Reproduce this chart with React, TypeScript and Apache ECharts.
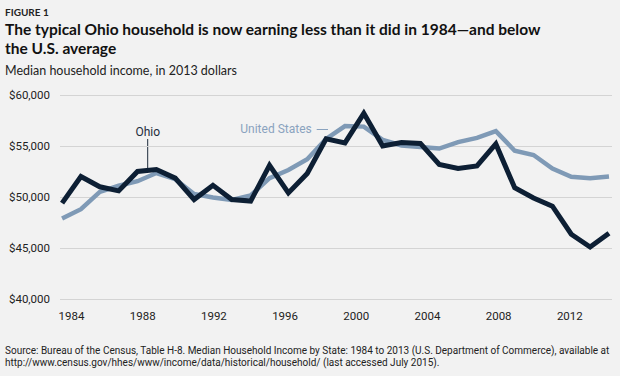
import React, { useEffect, useRef } from "react";
import * as echarts from "echarts";

const years = [1984, 1985, 1986, 1987, 1988, 1989, 1990, 1991, 1992, 1993, 1994, 1995, 1996, 1997, 1998, 1999, 2000, 2001, 2002, 2003, 2004, 2005, 2006, 2007, 2008, 2009, 2010, 2011, 2012, 2013];
const ohio = [49400, 52000, 51000, 50600, 52500, 52700, 51850, 49750, 51150, 49750, 49600, 53100, 50400, 52300, 55700, 55300, 58200, 55000, 55350, 55250, 53200, 52800, 53050, 55200, 50900, 49900, 49100, 46350, 45100, 46450];
const us = [47900, 48800, 50500, 51100, 51550, 52350, 51750, 50300, 49950, 49700, 50150, 51850, 52650, 53700, 55700, 56950, 56900, 55600, 55050, 54900, 54750, 55380, 55800, 56450, 54540, 54120, 52780, 51980, 51830, 52000];
const xTickLabels = [1984, 1988, 1992, 1996, 2000, 2004, 2008, 2012];

const HEAD = 'Lato, "Open Sans", sans-serif';
const SANS = 'Roboto, "Liberation Sans", sans-serif';

export default function App() {
  const ref = useRef<HTMLDivElement>(null);
  useEffect(() => {
    if (!ref.current) return;
    const chart = echarts.init(ref.current, null, { renderer: "svg" });
    chart.setOption({
      animation: false,
      backgroundColor: "#f2f2f2",
      grid: { left: 60, right: 8, top: 95, bottom: 77 },
      xAxis: [
        {
          type: "value",
          min: 1983.89,
          max: 2013.16,
          show: false,
        },
        {
          type: "value",
          min: 1983.354,
          max: 2014.37,
          position: "bottom",
          axisLine: { show: false },
          axisTick: { show: false },
          splitLine: { show: false },
          axisLabel: {
            customValues: xTickLabels,
            margin: 11,
            color: "#222",
            fontFamily: SANS,
            fontSize: 11.5,
            formatter: (v: number) => String(v),
          },
        },
      ],
      yAxis: {
        type: "value",
        min: 40000,
        max: 60000,
        interval: 5000,
        axisLine: { show: false },
        axisTick: { show: false },
        splitLine: { lineStyle: { color: "#d4d4d4", width: 1 } },
        axisLabel: {
          margin: 10,
          color: "#222",
          fontFamily: SANS,
          fontSize: 11.5,
          formatter: (v: number) => "$" + v.toLocaleString("en-US"),
        },
      },
      series: [
        {
          name: "United States",
          type: "line",
          xAxisIndex: 0,
          data: years.map((y, i) => [y, us[i]]),
          symbol: "none",
          lineStyle: { color: "#7f9ab6", width: 4.5, join: "miter", cap: "butt" },
        },
        {
          name: "Ohio",
          type: "line",
          xAxisIndex: 0,
          data: years.map((y, i) => [y, ohio[i]]),
          symbol: "none",
          lineStyle: { color: "#0d1f34", width: 5, join: "miter", cap: "butt" },
        },
      ],
      graphic: [
        { type: "text", x: 5, y: 11.7, style: { text: "FIGURE 1", fill: "#222", font: `bold 10px ${HEAD}`, verticalAlign: "middle" } },
        { type: "text", x: 5, y: 28.5, style: { text: "The typical Ohio household is now earning less than it did in 1984—and below", fill: "#111", font: `bold 15.5px ${HEAD}`, verticalAlign: "middle" } },
        { type: "text", x: 5, y: 48, style: { text: "the U.S. average", fill: "#111", font: `bold 15.5px ${HEAD}`, verticalAlign: "middle" } },
        { type: "text", x: 5, y: 70, style: { text: "Median household income, in 2013 dollars", fill: "#222", font: `12.5px ${HEAD}`, verticalAlign: "middle" } },
        { type: "text", x: 5, y: 350.7, style: { text: "Source: Bureau of the Census, Table H-8. Median Household Income by State: 1984 to 2013 (U.S. Department of Commerce), available at", fill: "#222", font: `10px ${SANS}`, verticalAlign: "middle" } },
        { type: "text", x: 5, y: 362.3, style: { text: "http://www.census.gov/hhes/www/income/data/historical/household/ (last accessed July 2015).", fill: "#222", font: `10px ${SANS}`, verticalAlign: "middle" } },
        { type: "text", x: 147.7, y: 132.3, style: { text: "Ohio", fill: "#1e2c3c", font: `12px ${SANS}`, align: "center", verticalAlign: "middle" } },
        { type: "line", shape: { x1: 147.7, y1: 139, x2: 147.7, y2: 170 }, style: { stroke: "#1e2c3c", lineWidth: 1 } },
        { type: "text", x: 311.7, y: 129.3, style: { text: "United States", fill: "#8aa3bf", font: `12px ${SANS}`, align: "right", verticalAlign: "middle" } },
        { type: "line", shape: { x1: 316.7, y1: 129.5, x2: 328, y2: 129.5 }, style: { stroke: "#8aa3bf", lineWidth: 1 } },
      ],
    });
    return () => chart.dispose();
  }, []);
  return <div ref={ref} style={{ width: 620, height: 376, position: "absolute", left: 0, top: 0 }} />;
}
